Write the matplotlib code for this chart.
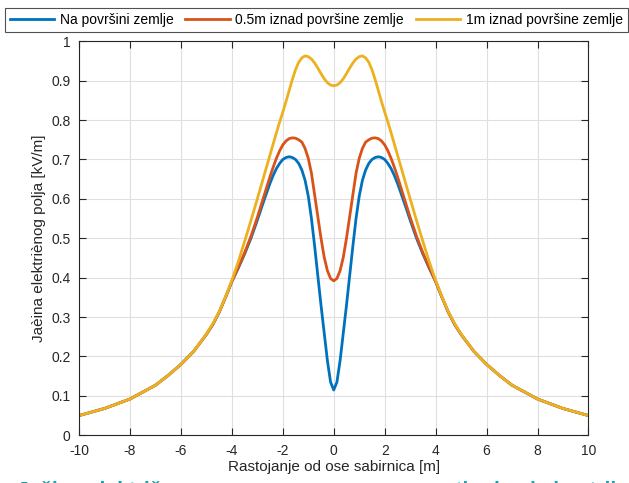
import matplotlib
matplotlib.use("Agg")
import matplotlib.pyplot as plt
from matplotlib.patches import Rectangle

plt.rcParams['font.family'] = ['Liberation Sans', 'DejaVu Sans']
plt.rcParams['axes.unicode_minus'] = False

# distances from the busbar axis [m]
x = [-10, -9, -8, -7, -6.5, -6, -5.5, -5, -4.75, -4.5, -4.25, -4, -3.75, -3.5, -3.25,
     -3, -2.875, -2.75, -2.625, -2.5, -2.375, -2.25, -2.125, -2, -1.875, -1.75,
     -1.625, -1.5, -1.375, -1.25, -1.125, -1, -0.875, -0.75, -0.625, -0.5, -0.375,
     -0.25, -0.125, 0, 0.125, 0.25, 0.375, 0.5, 0.625, 0.75, 0.875, 1, 1.125, 1.25,
     1.375, 1.5, 1.625, 1.75, 1.875, 2, 2.125, 2.25, 2.375, 2.5, 2.625, 2.75, 2.875,
     3, 3.25, 3.5, 3.75, 4, 4.25, 4.5, 4.75, 5, 5.5, 6, 6.5, 7, 8, 9, 10]

# field strength [kV/m]
e_ground = [0.050, 0.068, 0.092, 0.127, 0.152, 0.180, 0.213, 0.256, 0.281, 0.312,
            0.350, 0.390, 0.424, 0.460, 0.500, 0.546, 0.570, 0.594, 0.617, 0.640,
            0.660, 0.677, 0.690, 0.700, 0.705, 0.707, 0.705, 0.700, 0.690, 0.673,
            0.647, 0.607, 0.550, 0.480, 0.405, 0.330, 0.260, 0.190, 0.135, 0.115,
            0.135, 0.190, 0.260, 0.330, 0.405, 0.480, 0.550, 0.607, 0.647, 0.673,
            0.690, 0.700, 0.705, 0.707, 0.705, 0.700, 0.690, 0.677, 0.660, 0.640,
            0.617, 0.594, 0.570, 0.546, 0.500, 0.460, 0.424, 0.390, 0.350, 0.312,
            0.281, 0.256, 0.213, 0.180, 0.152, 0.127, 0.092, 0.068, 0.050]

e_half_m = [0.050, 0.068, 0.092, 0.127, 0.152, 0.180, 0.213, 0.256, 0.281, 0.312,
            0.350, 0.390, 0.426, 0.463, 0.505, 0.553, 0.579, 0.605, 0.631, 0.657,
            0.681, 0.703, 0.722, 0.737, 0.747, 0.753, 0.755, 0.754, 0.750, 0.744,
            0.728, 0.703, 0.665, 0.610, 0.555, 0.500, 0.452, 0.418, 0.398, 0.392,
            0.398, 0.418, 0.452, 0.500, 0.555, 0.610, 0.665, 0.703, 0.728, 0.744,
            0.750, 0.754, 0.755, 0.753, 0.747, 0.737, 0.722, 0.703, 0.681, 0.657,
            0.631, 0.605, 0.579, 0.553, 0.505, 0.463, 0.426, 0.390, 0.350, 0.312,
            0.281, 0.256, 0.213, 0.180, 0.152, 0.127, 0.092, 0.068, 0.050]

e_one_m = [0.050, 0.068, 0.092, 0.127, 0.152, 0.180, 0.213, 0.257, 0.283, 0.313,
           0.351, 0.393, 0.440, 0.492, 0.545, 0.600, 0.628, 0.656, 0.684, 0.712,
           0.740, 0.768, 0.795, 0.820, 0.847, 0.875, 0.903, 0.928, 0.947, 0.958,
           0.963, 0.961, 0.955, 0.945, 0.932, 0.918, 0.905, 0.895, 0.889, 0.887,
           0.889, 0.895, 0.905, 0.918, 0.932, 0.945, 0.955, 0.961, 0.963, 0.958,
           0.947, 0.928, 0.903, 0.875, 0.847, 0.820, 0.795, 0.768, 0.740, 0.712,
           0.684, 0.656, 0.628, 0.600, 0.545, 0.492, 0.440, 0.393, 0.351, 0.313,
           0.283, 0.257, 0.213, 0.180, 0.152, 0.127, 0.092, 0.068, 0.050]

labels = ['Na površini zemlje', '0.5m iznad površine zemlje', '1m iznad površine zemlje']
colors = ['#0072BD', '#D95319', '#EDB120']

fig = plt.figure(figsize=(6.29, 4.83), dpi=100)
ax = fig.add_axes([0.1256, 0.0988, 0.81, 0.8157])

for y, lab, c in zip([e_ground, e_half_m, e_one_m], labels, colors):
    ax.plot(x, y, color=c, lw=2, label=lab, solid_joinstyle='round')

ax.set_xlim(-10, 10)
ax.set_ylim(0, 1)
ax.set_xticks(range(-10, 11, 2))
ax.set_yticks([i / 10 for i in range(11)])
ax.set_yticklabels(['0'] + ['0.%d' % i for i in range(1, 10)] + ['1'])
ax.grid(True, color='#dfdfdf', lw=0.8)
ax.set_axisbelow(True)
ax.tick_params(direction='in', length=5, top=True, right=True,
               labelsize=10, colors='#262626', pad=6)
for s in ax.spines.values():
    s.set_color('#262626')
    s.set_linewidth(0.8)

ax.set_ylabel('Jaèina elektriènog polja [kV/m]', fontsize=11, color='#262626')
ax.set_xlabel('Rastojanje od ose sabirnica [m]', fontsize=11, color='#262626',
              labelpad=2)

# caption cut off at the bottom of the picture, partly hidden by the x label
fig.text(0.027, -0.027, 'Jačina električnog polja u funkciji udaljenosti od osi simetrije',
         fontsize=15, fontweight='bold', color='#1fa0a0', va='baseline', zorder=-2)
fig.patches.append(Rectangle((205 / 629, 0), 247 / 629, 10 / 483,
                             transform=fig.transFigure, facecolor='white',
                             edgecolor='none', zorder=-1))

leg = fig.legend(ncol=3, loc='upper left', bbox_to_anchor=(5 / 629, 1 - 8 / 483),
                 fontsize=10, frameon=True, fancybox=False, edgecolor='#262626',
                 handlelength=3.2, handletextpad=0.4, columnspacing=0.85,
                 borderpad=0.35, borderaxespad=0)
leg.get_frame().set_linewidth(0.8)

fig.savefig('out.png', dpi=100)
